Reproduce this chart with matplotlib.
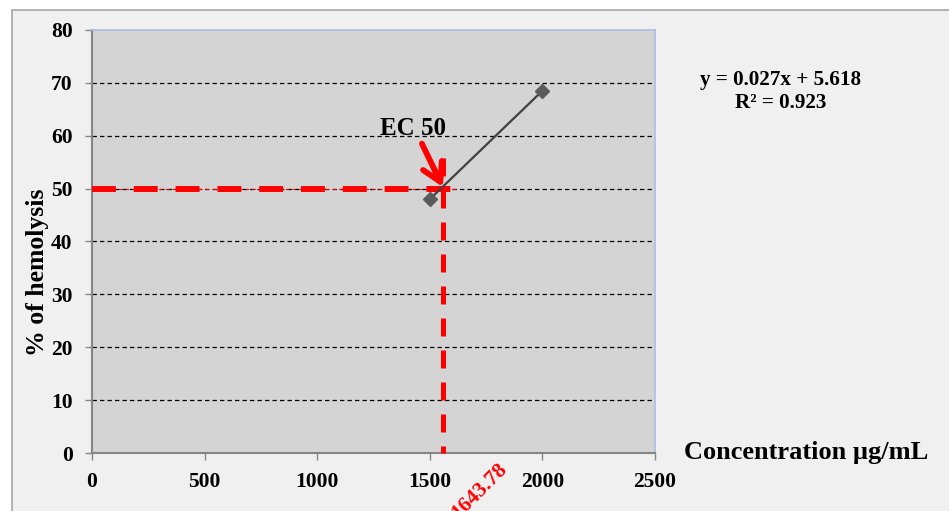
import matplotlib.pyplot as plt
from matplotlib.patches import Rectangle

# data
conc = [1500, 2000]
hemolysis = [48, 68.5]
ec50_level = 50
ec50_x = 1558          # where the red guide lines cross
ec50_label = '1643.78'
x_ticks = [0, 500, 1000, 1500, 2000, 2500]
y_ticks = [0, 10, 20, 30, 40, 50, 60, 70, 80]
grid_levels = [10, 20, 30, 40, 50, 60, 70]

plt.rcParams['font.family'] = ['Liberation Serif', 'DejaVu Serif']
plt.rcParams['font.weight'] = 'bold'

fig = plt.figure(figsize=(9.49, 5.11), dpi=100)
fig.patch.set_facecolor('white')
# chart area frame
fig.patches.append(Rectangle((12 / 949, -0.05), 1.1, 1 - 10 / 511 + 0.05,
                             transform=fig.transFigure, facecolor='#f0f0f0',
                             edgecolor='#a6a6a6', linewidth=1.2, zorder=-5))

ax = fig.add_axes([92 / 949, 1 - 453 / 511, (655 - 92) / 949, (453 - 30) / 511])
ax.set_zorder(2)
ax.set_facecolor('#d4d4d4')
ax.set_xlim(0, 2500)
ax.set_ylim(0, 80)
ax.set_xticks(x_ticks)
ax.set_yticks(y_ticks)
ax.tick_params(labelsize=15.5, colors='#868686', labelcolor='black',
               length=5, width=1, pad=9)
for lab in ax.get_xticklabels() + ax.get_yticklabels():
    lab.set_fontweight('bold')

for s in ['left', 'bottom']:
    ax.spines[s].set_color('#868686')
    ax.spines[s].set_linewidth(1.5)
for s in ['top', 'right']:
    ax.spines[s].set_color('#a9bfe6')
    ax.spines[s].set_linewidth(1.2)

for g in grid_levels:
    ax.axhline(g, color='black', linestyle=(0, (3.5, 2.5)), linewidth=0.9, zorder=1)

# EC50 guide lines
ax.plot([0, 1620], [ec50_level, ec50_level], color='red', linewidth=0.8,
        linestyle=(0, (3, 3)), zorder=2)
ax.plot([0, 1620], [ec50_level, ec50_level], color='red', linewidth=4.3,
        linestyle=(0, (4, 3)), zorder=3, solid_capstyle='butt')
ax.plot([ec50_x, ec50_x], [55.8, 0], color='red', linewidth=3.6,
        linestyle=(0, (3.6, 2.8)), zorder=3, clip_on=False)

# data line
ax.plot(conc, hemolysis, color='#404040', linewidth=1.6, marker='D',
        markersize=7, markerfacecolor='#5a5a5a', markeredgecolor='#5a5a5a', zorder=4)

# arrow and labels
ax.annotate('', xy=(ec50_x, ec50_level + 0.3), xytext=(1465, 58.5),
            arrowprops=dict(arrowstyle='->,head_length=1.3,head_width=0.75',
                            color='red', linewidth=4.2, shrinkA=0, shrinkB=0),
            zorder=5)
ax.text(1425, 60.1, 'EC 50', fontsize=18, fontweight='bold', ha='center', va='baseline')

ax.annotate(ec50_label, xy=(ec50_x, 0), xytext=(26, -27), textcoords='offset points',
            rotation=45, color='red', fontsize=15.5, fontweight='bold',
            ha='center', va='center', annotation_clip=False)

fig.text(781 / 949, 1 - 80 / 511, 'y = 0.027x + 5.618', fontsize=15.2,
         fontweight='bold', ha='center', va='center')
fig.text(781 / 949, 1 - 103 / 511, 'R² = 0.923', fontsize=15.2,
         fontweight='bold', ha='center', va='center')

fig.text(684 / 949, 1 - 452 / 511, 'Concentration µg/mL', fontsize=19,
         fontweight='bold', ha='left', va='center')
fig.text(38 / 949, 1 - 272 / 511, '% of hemolysis', fontsize=18.5,
         fontweight='bold', ha='center', va='center', rotation=90)

fig.savefig('out.png', dpi=100)
